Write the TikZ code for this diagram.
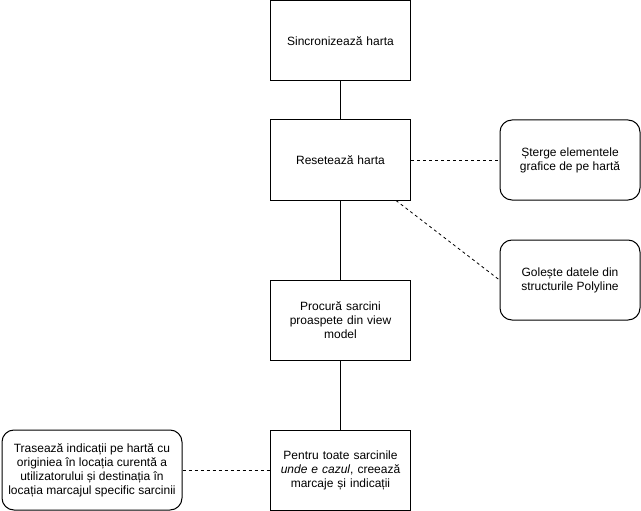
\documentclass[tikz,border=0pt]{standalone}
\usepackage{fontspec}
\setmainfont{Liberation Sans}
\begin{document}
\begin{tikzpicture}[x=1pt,y=-1pt,
  every node/.style={font=\fontsize{12}{14}\selectfont, align=center, inner sep=0pt},
  stepbox/.style={draw, line width=1pt, minimum width=140pt, minimum height=80pt, text width=126pt},
  notebox/.style={draw, line width=1pt, rounded corners=12pt, minimum height=80pt},
  link/.style={line width=1pt},
  dlink/.style={line width=0.8pt, dash pattern=on 3pt off 3pt}]
\useasboundingbox (0,0) rectangle (641,511);

% main sequence
\node[stepbox] (sync) at (340.5,41) {Sincronizează harta};
\node[stepbox] (reset) at (340.5,160) {Resetează harta};
\node[stepbox] (fetch) at (340.5,320) {Procură sarcini\\proaspete din view\\model};
\node[stepbox] (tasks) at (340.5,470) {Pentru toate sarcinile\\\textit{unde e cazul}, creează\\marcaje și indicații};

% side notes
\node[notebox, minimum width=140pt] (erase) at (570,160) {Șterge elementele\\grafice de pe hartă};
\node[notebox, minimum width=140pt] (clear) at (570,280) {Golește datele din\\structurile Polyline};
\node[notebox, minimum width=180pt] (route) at (92,470) {Trasează indicații pe hartă cu\\originiea în locația curentă a\\utilizatorului și destinația în\\locația marcajul specific sarcinii};

% connectors
\draw[link] (sync.south) -- (reset.north);
\draw[link] (reset.south) -- (fetch.north);
\draw[link] (fetch.south) -- (tasks.north);
\draw[dlink] (reset.east) -- (erase.west);
\draw[dlink] ([xshift=-15pt]reset.south east) -- (clear.west);
\draw[dlink] (route.east) -- (tasks.west);
\end{tikzpicture}
\end{document}
